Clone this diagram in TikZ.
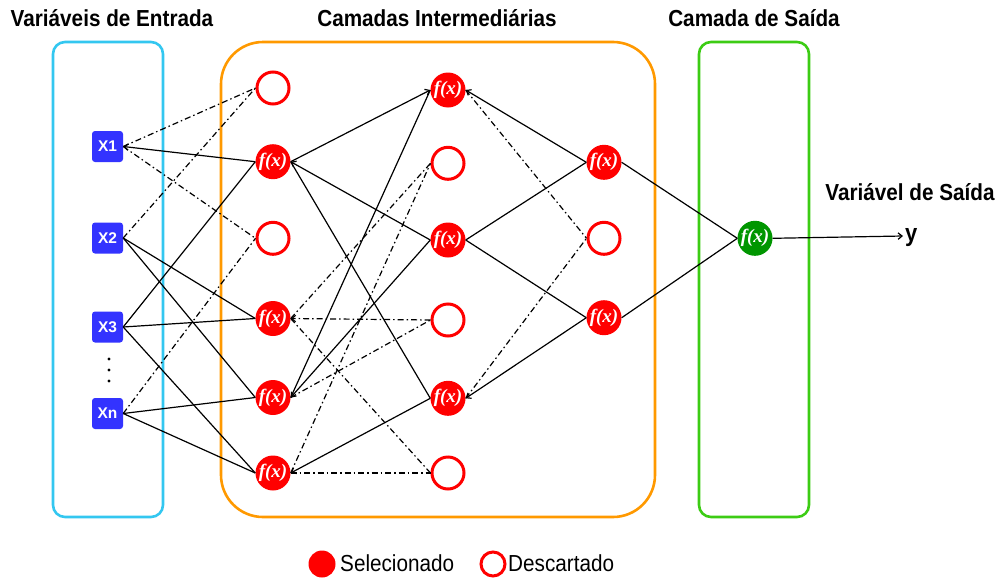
\documentclass[tikz,border=0pt]{standalone}
\usepackage{graphicx}
\usepackage{fontspec}
\setmainfont{Liberation Sans}
\newfontfamily\fxfont{Liberation Serif}
\usetikzlibrary{arrows.meta}
\definecolor{inblue}{RGB}{51,51,255}
\definecolor{boxcyan}{RGB}{51,199,240}
\definecolor{boxorange}{RGB}{255,153,0}
\definecolor{boxgreen}{RGB}{60,204,20}
\definecolor{outgreen}{RGB}{0,150,0}
\definecolor{nred}{RGB}{255,0,0}
\newcommand\tall[1]{\scalebox{1}[1.12]{#1}}
\begin{document}
\begin{tikzpicture}[x=1pt,y=-1pt,
  inbox/.style={fill=inblue, rounded corners=3pt, minimum size=31pt, inner sep=0pt, text=white, font=\bfseries\fontsize{15.5}{16}\selectfont},
  fnode/.style={circle, fill=nred, minimum size=35pt, inner sep=0pt, text=white, font=\fxfont\bfseries\itshape\fontsize{19}{19}\selectfont},
  onode/.style={fnode, fill=outgreen},
  enode/.style={circle, draw=nred, line width=3pt, fill=white, minimum size=32pt, inner sep=0pt},
  frame/.style={line width=2.6pt, rounded corners=#1},
  title/.style={font=\bfseries\fontsize{20.7}{21}\selectfont, anchor=base, inner sep=0pt},
  legtext/.style={font=\fontsize{20.7}{21}\selectfont, anchor=base west, inner sep=0pt},
  conn/.style={line width=1.2pt, black},
  dd/.style={conn, dash pattern=on 6pt off 3pt on 1.5pt off 3pt},
  arr/.style={-{Straight Barb[length=4pt,width=6.5pt]}}
]
\useasboundingbox (0,0) rectangle (998,581);
% frames
\draw[frame=12pt, draw=boxcyan] (53,42) rectangle (163,517);
\draw[frame=42pt, draw=boxorange] (221,42) rectangle (655,517);
\draw[frame=12pt, draw=boxgreen] (699,42) rectangle (809,517);
% titles
\node[title] (t1) at (112,26) {\tall{Variáveis de Entrada}};
\node[title] (t2) at (437,26) {\tall{Camadas Intermediárias}};
\node[title] (t3) at (754,26) {\tall{Camada de Saída}};
\node[title] (t4) at (910,200.5) {\tall{Variável de Saída}};
% inputs
\node[inbox] (X1) at (107.5,146.5) {X1};
\node[inbox] (X2) at (107.5,238) {X2};
\node[inbox] (X3) at (107.5,327) {X3};
\node[inbox] (Xn) at (107.5,413.5) {Xn};
\foreach \yy [count=\i] in {359,370,381} \fill (109,\yy) circle (1.6pt) coordinate (dot\i);
% layer 1
\node[enode] (A1) at (273,88) {};
\node[fnode] (A2) at (273,161.7) {f(x)};
\node[enode] (A3) at (273,238.3) {};
\node[fnode] (A4) at (273,318.5) {f(x)};
\node[fnode] (A5) at (273,397.5) {f(x)};
\node[fnode] (A6) at (273,473) {f(x)};
% layer 2
\node[fnode] (B1) at (448,90) {f(x)};
\node[enode] (B2) at (448,163.3) {};
\node[fnode] (B3) at (448,240) {f(x)};
\node[enode] (B4) at (448,320) {};
\node[fnode] (B5) at (448,398.3) {f(x)};
\node[enode] (B6) at (448,473) {};
% layer 3
\node[fnode] (C1) at (604,162.3) {f(x)};
\node[enode] (C2) at (604,238.3) {};
\node[fnode] (C3) at (604,317.7) {f(x)};
% output
\node[onode] (O) at (755,238.3) {f(x)};
\node[anchor=base west, inner sep=0pt, font=\bfseries\fontsize{22}{22}\selectfont] (Y) at (905,241) {\tall{y}};
\coordinate (yend) at (903,236);
% inputs -> layer 1
\draw[conn,arr] (A2.west) -- (X1.east);
\draw[dd] (X1.east) -- (A1.west);
\draw[dd] (X1.east) -- (A3.west);
\draw[dd] (X2.east) -- (A1.west);
\draw[conn] (X2.east) -- (A4.west);
\draw[conn] (X2.east) -- (A5.west);
\draw[conn] (X3.east) -- (A2.west);
\draw[conn] (X3.east) -- (A4.west);
\draw[conn] (X3.east) -- (A6.west);
\draw[dd] (Xn.east) -- (A3.west);
\draw[conn] (Xn.east) -- (A5.west);
\draw[conn] (Xn.east) -- (A6.west);
% layer 1 -> layer 2
\draw[conn,arr] (A2.east) -- (B1.west);
\draw[conn,arr] (B3.west) -- (A2.east);
\draw[conn] (A2.east) -- (B5.west);
\draw[dd] (A4.east) -- (B2.west);
\draw[dd,arr] (B4.west) -- (A4.east);
\draw[dd] (A4.east) -- (B6.west);
\draw[conn] (A5.east) -- (B1.west);
\draw[conn,arr] (B3.west) -- (A5.east);
\draw[dd] (A5.east) -- (B4.west);
\draw[dd] (A6.east) -- (B2.west);
\draw[conn,arr] (B5.west) -- (A6.east);
\draw[dd] (A6.east) -- (B6.west);
% layer 2 -> layer 3
\draw[conn,arr] (C1.west) -- (B1.east);
\draw[dd] (B1.east) -- (C2.west);
\draw[conn] (B3.east) -- (C1.west);
\draw[conn] (B3.east) -- (C3.west);
\draw[conn,arr] (C3.west) -- (B5.east);
\draw[dd] (B5.east) -- (C2.west);
% layer 3 -> output
\draw[conn] (C1.east) -- (O.west);
\draw[conn] (C3.east) -- (O.west);
\draw[conn,arr] (O.east) -- (yend);
% legend
\node[circle, fill=nred, minimum size=27pt, inner sep=0pt] (L1) at (322,564) {};
\node[legtext] (L1t) at (340,571) {\tall{Selecionado}};
\node[circle, draw=nred, line width=3pt, minimum size=24pt, inner sep=0pt] (L2) at (493,564) {};
\node[legtext] (L2t) at (508,571) {\tall{Descartado}};
\end{tikzpicture}
\end{document}
